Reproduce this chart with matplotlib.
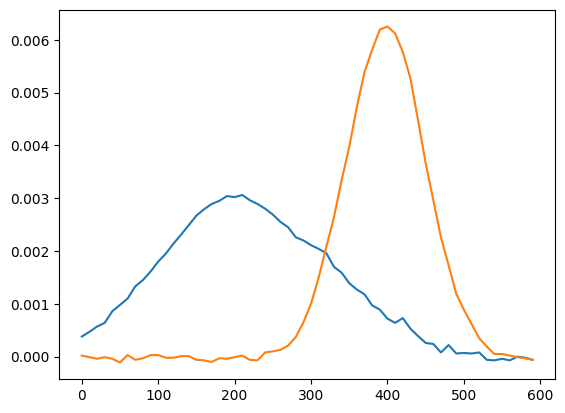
import numpy as np
import matplotlib
matplotlib.use("Agg")
import matplotlib.pyplot as plt

x = list(range(0, 600, 10))

blue = [0.00038, 0.00047, 0.00057, 0.00064, 0.00086, 0.00098, 0.00110, 0.00133, 0.00145, 0.00161,
        0.00180, 0.00195, 0.00214, 0.00231, 0.00249, 0.00267, 0.00279, 0.00289, 0.00295, 0.00304,
        0.00302, 0.00306, 0.00296, 0.00289, 0.00280, 0.00269, 0.00255, 0.00245, 0.00226, 0.00220,
        0.00211, 0.00204, 0.00196, 0.00170, 0.00159, 0.00139, 0.00127, 0.00118, 0.00097, 0.00089,
        0.00072, 0.00064, 0.00073, 0.00053, 0.00039, 0.00026, 0.00024, 0.00008, 0.00022, 0.00006,
        0.00007, 0.00006, 0.00008, -0.00006, -0.00007, -0.00004, -0.00007, 0.00000, -0.00002, -0.00006]

orange = [0.00002, -0.00001, -0.00004, -0.00001, -0.00004, -0.00011, 0.00003, -0.00006, -0.00003, 0.00003,
          0.00003, -0.00002, -0.00002, 0.00001, 0.00001, -0.00006, -0.00007, -0.00010, -0.00003, -0.00004,
          -0.00001, 0.00002, -0.00006, -0.00007, 0.00008, 0.00010, 0.00013, 0.00021, 0.00037, 0.00065,
          0.00100, 0.00150, 0.00208, 0.00264, 0.00334, 0.00397, 0.00473, 0.00539, 0.00581, 0.00619,
          0.00625, 0.00612, 0.00577, 0.00527, 0.00448, 0.00366, 0.00296, 0.00226, 0.00173, 0.00119,
          0.00089, 0.00062, 0.00035, 0.00019, 0.00005, 0.00005, 0.00002, -0.00001, -0.00003, -0.00006]

fig, ax = plt.subplots(figsize=(6.4, 4.8), dpi=100)
ax.plot(x, blue)
ax.plot(x, orange)
fig.savefig("out.png", bbox_inches="tight")
